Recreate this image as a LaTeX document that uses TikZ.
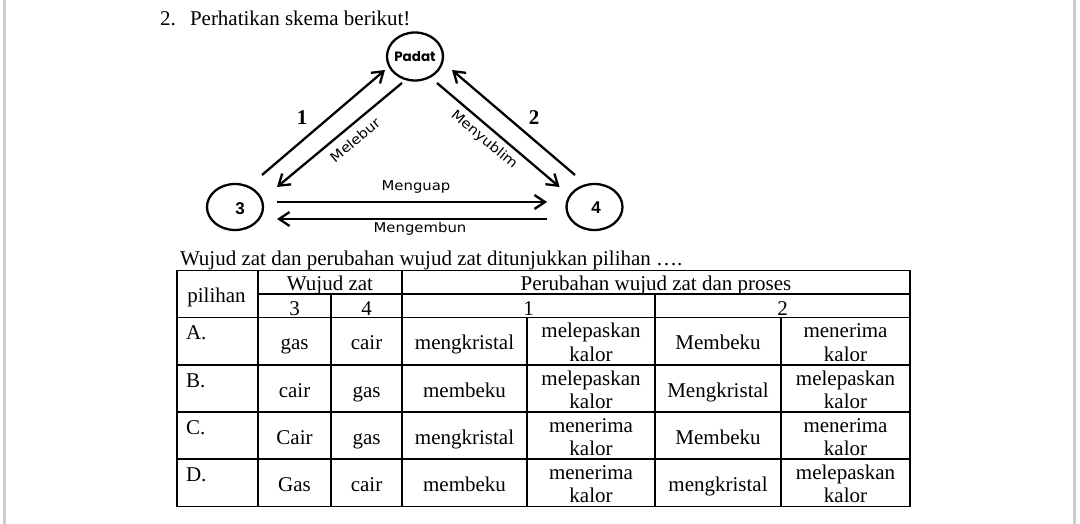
\documentclass[tikz,border=0pt]{standalone}
\usepackage{fontspec}
\setmainfont{Liberation Serif}
\newfontfamily\handfont{DejaVu Sans}[FakeStretch=1.1]
\newfontfamily\popfont{Poppins}
\newfontfamily\lsansfont{Liberation Sans}
\usetikzlibrary{arrows.meta,calc,shapes.geometric}
\begin{document}
\begin{tikzpicture}[x=1pt,y=-1pt,
  every node/.style={inner sep=0pt,outer sep=0pt},
  state/.style={draw,line width=2.3pt,ellipse,minimum width=56pt,minimum height=46pt},
  flow/.style={line width=2.3pt,-{Straight Barb[length=10.5pt,width=14pt]}},
  hand/.style={font=\handfont\fontsize{13.5}{15}\selectfont},
  bignum/.style={font=\bfseries\fontsize{21}{24}\selectfont},
  statenum/.style={font=\lsansfont\bfseries\fontsize{17}{20}\selectfont},
  txt/.style={font=\fontsize{21}{24}\selectfont,anchor=base},
  txtw/.style={font=\fontsize{21}{24}\selectfont,anchor=base west},
  tbl/.style={line width=1.2pt}]
% canvas
\fill[white] (0,0) rectangle (1080,524);
\path[use as bounding box] (0,0) rectangle (1080,524);
\fill[gray!40] (3,0) rectangle (6,524);
\fill[gray!40] (1073,0) rectangle (1076,524);

% title
\node[txtw] (num) at (160,25.5) {2.};
\node[txtw] (title) at (190,25.5) {Perhatikan skema berikut!};

% diagram states
\node[state,minimum height=48pt] (padat) at (415,56.5) {};
\node[font=\popfont\bfseries\fontsize{13.5}{15}\selectfont] (tpadat) at (415,57) {Padat};
\node[state] (n3) at (235,207) {};
\node[statenum] (t3) at (240,209) {3};
\node[state] (n4) at (594.5,207) {};
\node[statenum] (t4) at (596,207.5) {4};

% connector end points
\coordinate (lo1) at ($(n3)+(27,-32)$);
\coordinate (lo2) at ($(padat)+(-30,13.5)$);
\coordinate (li1) at ($(padat)+(-13,26.5)$);
\coordinate (li2) at ($(n3)+(42,-20)$);
\coordinate (ri1) at ($(padat)+(22,26.5)$);
\coordinate (ri2) at ($(n4)+(-35,-20)$);
\coordinate (ro1) at ($(n4)+(-19.5,-32)$);
\coordinate (ro2) at ($(padat)+(37,13.5)$);
\coordinate (h1a) at ($(n3)+(42,-5)$);
\coordinate (h1b) at ($(n4)+(-47.5,-5)$);
\coordinate (h2a) at ($(n4)+(-47.5,12)$);
\coordinate (h2b) at ($(n3)+(42,12)$);

\draw[flow] (lo1) -- (lo2);
\draw[flow] (li1) -- (li2);
\draw[flow] (ri1) -- (ri2);
\draw[flow] (ro1) -- (ro2);
\draw[flow] (h1a) -- (h1b);
\draw[flow] (h2a) -- (h2b);

% diagram labels
\node[bignum] (l1) at (302,118) {1};
\node[bignum] (l2) at (534,118) {2};
\node[hand,rotate=40] (melebur) at (355,140) {Melebur};
\node[hand,rotate=-40] (menyublim) at (484,140) {Menyublim};
\node[hand,anchor=base] (menguap) at (416,191) {Menguap};
\node[hand,anchor=base] (mengembun) at (420,233) {Mengembun};

% question line
\node[txtw] (q) at (180,265.5) {Wujud zat dan perubahan wujud zat ditunjukkan pilihan \ldots.};

% table lines
\draw[tbl] (177,270.5) rectangle (910,506.5);
\draw[tbl] (258,294) -- (910,294);
\foreach \y in {317.5,365,412,459} \draw[tbl] (177,\y) -- (910,\y);
\draw[tbl] (258,270.5) -- (258,506.5);
\draw[tbl] (402,270.5) -- (402,506.5);
\draw[tbl] (331,294) -- (331,506.5);
\draw[tbl] (655,294) -- (655,506.5);
\draw[tbl] (527,317.5) -- (527,506.5);
\draw[tbl] (781,317.5) -- (781,506.5);

% header
\node[txt] (hpil) at (216.5,302.5) {pilihan};
\node[txt] (hwz) at (330,290) {Wujud zat};
\node[txt] (hper) at (656,290) {Perubahan wujud zat dan proses};
\node[txt] (h3) at (294.5,315) {3};
\node[txt] (h4) at (366.5,315) {4};
\node[txt] (h1) at (528.5,315) {1};
\node[txt] (h2) at (782.5,315) {2};

% rows
\foreach \lab/\top/\a/\b/\c/\dA/\e/\fA [count=\i] in {
  A./317.5/gas/cair/mengkristal/melepaskan/Membeku/menerima,
  B./365/cair/gas/membeku/melepaskan/Mengkristal/melepaskan,
  C./412/Cair/gas/mengkristal/menerima/Membeku/menerima,
  D./459/Gas/cair/membeku/menerima/mengkristal/melepaskan}{
  \node[txtw] (r\i) at (186,\top+22) {\lab};
  \node[txt] (r\i c3) at (294.5,\top+32) {\a};
  \node[txt] (r\i c4) at (366.5,\top+32) {\b};
  \node[txt] (r\i c5) at (464.5,\top+32) {\c};
  \node[txt] (r\i c6a) at (591,\top+20) {\dA};
  \node[txt] (r\i c6b) at (591,\top+43.5) {kalor};
  \node[txt] (r\i c7) at (718,\top+32) {\e};
  \node[txt] (r\i c8a) at (845.5,\top+20) {\fA};
  \node[txt] (r\i c8b) at (845.5,\top+43.5) {kalor};
}
\end{tikzpicture}
\end{document}
